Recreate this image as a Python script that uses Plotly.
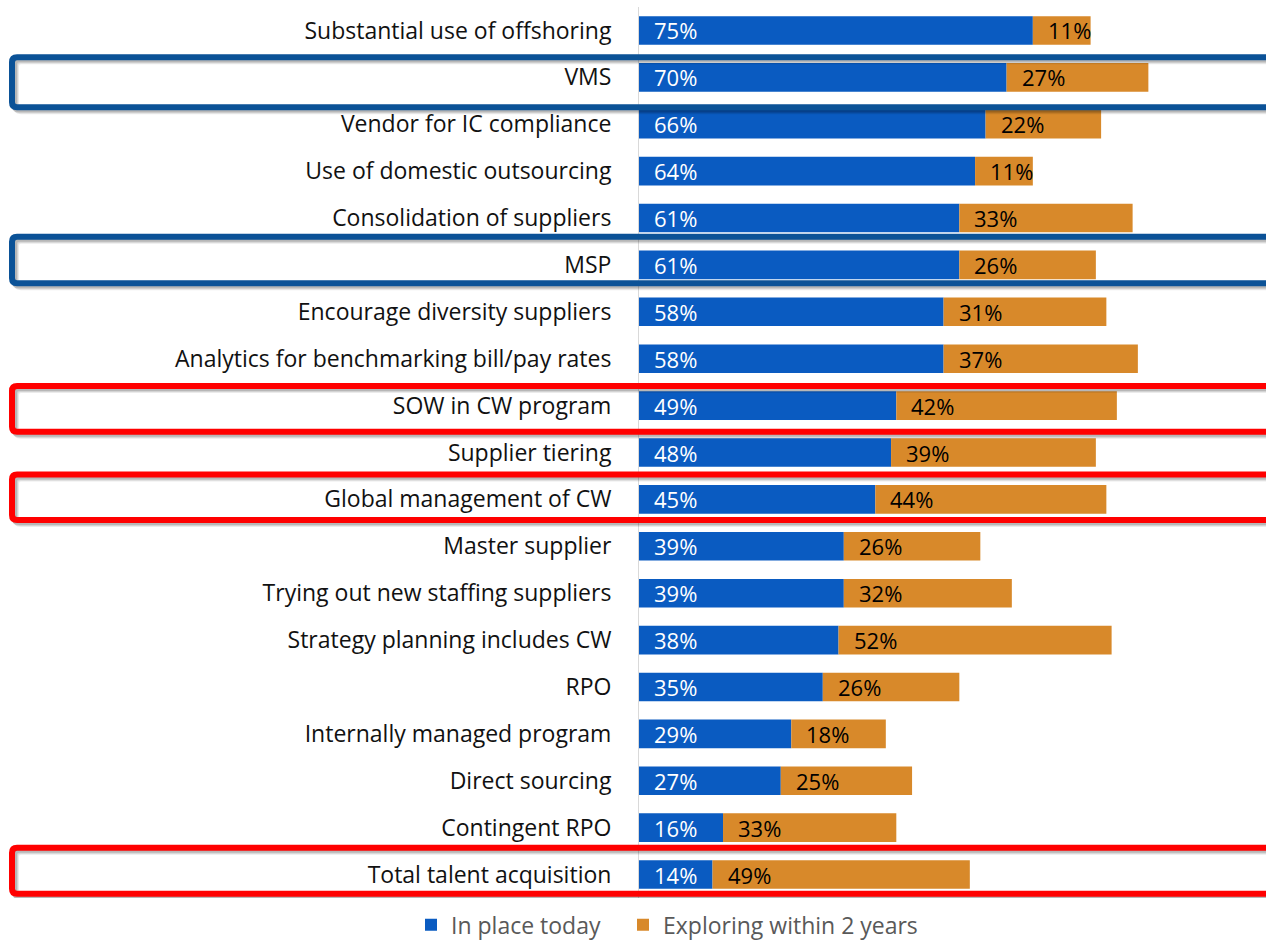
import plotly.graph_objects as go

# Contingent workforce program practices: share in place today vs. exploring
categories = [
    "Substantial use of offshoring",
    "VMS",
    "Vendor for IC compliance",
    "Use of domestic outsourcing",
    "Consolidation of suppliers",
    "MSP",
    "Encourage diversity suppliers",
    "Analytics for benchmarking bill/pay rates",
    "SOW in CW program",
    "Supplier tiering",
    "Global management of CW",
    "Master supplier",
    "Trying out new staffing suppliers",
    "Strategy planning includes CW",
    "RPO",
    "Internally managed program",
    "Direct sourcing",
    "Contingent RPO",
    "Total talent acquisition",
]
in_place_today = [75, 70, 66, 64, 61, 61, 58, 58, 49, 48, 45, 39, 39, 38, 35, 29, 27, 16, 14]
exploring_2yrs = [11, 27, 22, 11, 33, 26, 31, 37, 42, 39, 44, 26, 32, 52, 26, 18, 25, 33, 49]
series_names = ["In place today", "Exploring within 2 years"]

# Highlighted rows: (category, outline colour)
highlights = [
    ("VMS", "#0B5297"),
    ("MSP", "#0B5297"),
    ("SOW in CW program", "#FF0000"),
    ("Global management of CW", "#FF0000"),
    ("Total talent acquisition", "#FF0000"),
]
# Vertical extent of each outline relative to its row (row units: top, bottom)
highlight_extent = {
    "VMS": (-0.43, 0.64),
    "MSP": (-0.60, 0.39),
    "SOW in CW program": (-0.42, 0.56),
    "Global management of CW": (-0.53, 0.44),
    "Total talent acquisition": (-0.57, 0.41),
}

BLUE = "#0A5BC1"
ORANGE = "#D8892A"
FONT = "Open Sans"
FS = 22

W, H = 1266, 944
ML, MR, MT, MB = 639, 0, 7, 46
plot_w = W - ML - MR
plot_h = H - MT - MB
n = len(categories)
ypos = list(range(n))
row_px = plot_h / n
x_max = 119.4

fig = go.Figure()
fig.add_trace(go.Bar(
    y=ypos, x=in_place_today, orientation="h", name=series_names[0],
    marker=dict(color=BLUE, line=dict(width=0)), width=0.61, legend="legend",
))
fig.add_trace(go.Bar(
    y=ypos, x=exploring_2yrs, orientation="h", name=series_names[1],
    base=in_place_today,
    marker=dict(color=ORANGE, line=dict(width=0)), width=0.61, legend="legend2",
))

# Value labels at the start of each segment
for i in range(n):
    a, b = in_place_today[i], exploring_2yrs[i]
    fig.add_annotation(x=0, y=i, text=f"{a}%", showarrow=False, xanchor="left",
                       xshift=13, font=dict(family=FONT, size=FS, color="white"))
    fig.add_annotation(x=a, y=i, text=f"{b}%", showarrow=False, xanchor="left",
                       xshift=13, font=dict(family=FONT, size=FS, color="black"))

# Rounded outline boxes around highlighted rows (with a soft drop shadow)
def rounded_path(x0, x1, y0, y1, rx, ry):
    return (f"M {x0 + rx} {y0} L {x1 - rx} {y0} Q {x1} {y0} {x1} {y0 + ry} "
            f"L {x1} {y1 - ry} Q {x1} {y1} {x1 - rx} {y1} "
            f"L {x0 + rx} {y1} Q {x0} {y1} {x0} {y1 - ry} "
            f"L {x0} {y0 + ry} Q {x0} {y0} {x0 + rx} {y0} Z")

px_x = 1.0 / plot_w
px_y = 1.0 / row_px
x_left = (12 - ML) * px_x
x_right = (1290 - ML) * px_x
for cat, col in highlights:
    i = categories.index(cat)
    top, bot = highlight_extent[cat]
    y0, y1 = i + top, i + bot
    for k, op in ((4, 0.08), (3, 0.10), (2, 0.13)):
        fig.add_shape(type="path", xref="paper", yref="y",
                      path=rounded_path(x_left + k * px_x, x_right + k * px_x,
                                        y0 + k * px_y, y1 + k * px_y, 5 * px_x, 5 * px_y),
                      line=dict(color=f"rgba(0,0,0,{op})", width=6))
    fig.add_shape(type="path", xref="paper", yref="y",
                  path=rounded_path(x_left, x_right, y0, y1, 5 * px_x, 5 * px_y),
                  line=dict(color=col, width=6))

legend_style = dict(
    orientation="h", xanchor="left", y=-0.006, yanchor="top",
    font=dict(family=FONT, size=23, color="#595959"),
    itemwidth=30, bgcolor="rgba(0,0,0,0)",
)

fig.update_layout(
    width=W, height=H,
    margin=dict(l=ML, r=MR, t=MT, b=MB, autoexpand=False),
    barmode="overlay",
    plot_bgcolor="white", paper_bgcolor="white",
    font=dict(family=FONT, size=FS, color="#111111"),
    showlegend=True,
    legend=dict(x=(411 - ML) * px_x, **legend_style),
    legend2=dict(x=(623 - ML) * px_x, **legend_style),
    xaxis=dict(range=[0, x_max], visible=False, showgrid=False, zeroline=False),
    yaxis=dict(
        range=[n - 0.5, -0.5], tickmode="array", tickvals=ypos, ticktext=categories,
        showgrid=False, zeroline=False, showline=True, linecolor="#D9D9D9", linewidth=1,
        ticks="", ticklabelstandoff=22,
        tickfont=dict(family=FONT, size=23, color="#111111"),
    ),
)

fig.write_html("out.html")
